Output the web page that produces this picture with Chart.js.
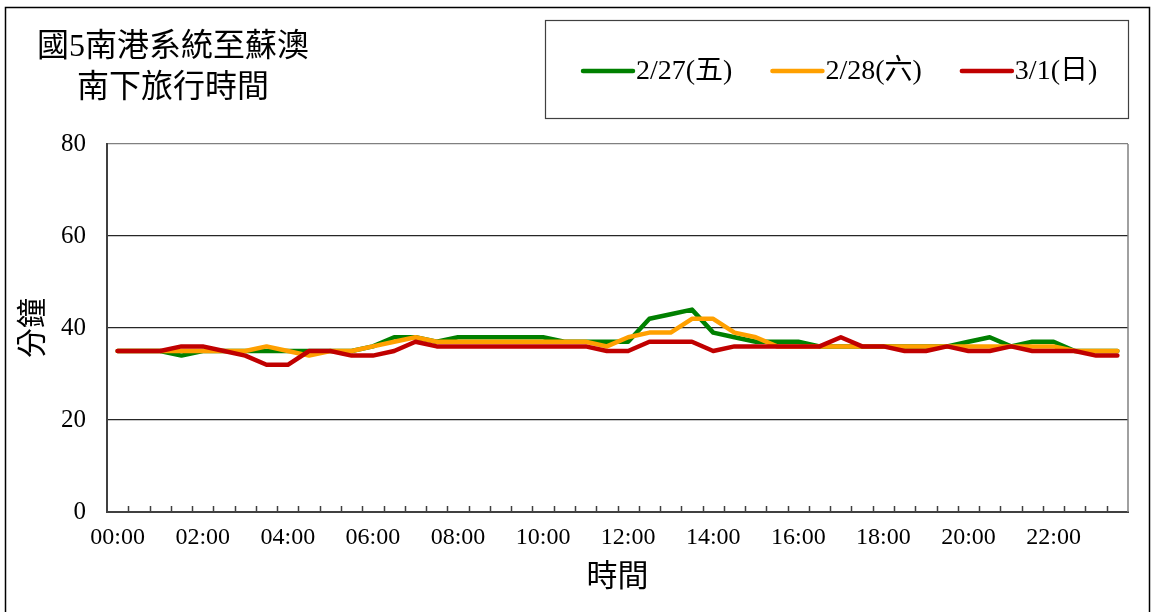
<!DOCTYPE html>
<html><head><meta charset="utf-8">
<script src="https://cdn.jsdelivr.net/npm/chart.js@4.4.1/dist/chart.umd.min.js"></script>
<style>html,body{margin:0;padding:0;background:#fff;overflow:hidden}#wrap{position:relative;width:1153px;height:612px}</style>
</head><body><div id="wrap"><canvas id="c" width="1153" height="612"></canvas></div>
<script>
const titleLines = ['國5南港系統至蘇澳', '南下旅行時間'];
const xTitle = '時間';
const yTitle = '分鐘';
const categories = ['00:00','00:30','01:00','01:30','02:00','02:30','03:00','03:30','04:00','04:30','05:00','05:30',
  '06:00','06:30','07:00','07:30','08:00','08:30','09:00','09:30','10:00','10:30','11:00','11:30',
  '12:00','12:30','13:00','13:30','14:00','14:30','15:00','15:30','16:00','16:30','17:00','17:30',
  '18:00','18:30','19:00','19:30','20:00','20:30','21:00','21:30','22:00','22:30','23:00','23:30'];
const tickLabels = ['00:00','02:00','04:00','06:00','08:00','10:00','12:00','14:00','16:00','18:00','20:00','22:00'];
const seriesNames = ['2/27(五)', '2/28(六)', '3/1(日)'];
const fri = [35,35,35,34,35,35,35,35,35,35,35,35, 36,38,38,37,38,38,38,38,38,37,37,37, 37,42,43,44,39,38,37,37,37,36,36,36, 36,36,36,36,37,38,36,37,37,35,35,35];
const sat = [35,35,35,35,35,35,35,36,35,34,35,35, 36,37,38,37,37,37,37,37,37,37,37,36, 38,39,39,42,42,39,38,36,36,36,36,36, 36,36,36,36,36,36,36,36,36,35,35,35];
const sun = [35,35,35,36,36,35,34,32,32,35,35,34, 34,35,37,36,36,36,36,36,36,36,36,35, 35,37,37,37,35,36,36,36,36,36,38,36, 36,35,35,36,35,35,36,35,35,35,34,34];
const yTicks = [0, 20, 40, 60, 80];
const colors = ['#008000', '#FFA000', '#C00000'];

const serif = '"Liberation Serif", "Noto Sans CJK TC", serif';

const decor = {
  id: 'decor',
  afterDraw(chart) {
    const ctx = chart.ctx, a = chart.chartArea, xs = chart.scales.x;
    ctx.save();
    // outer frame
    ctx.strokeStyle = '#000'; ctx.lineWidth = 1.5;
    ctx.strokeRect(5.5, 7.5, 1144, 700);
    // right plot border
    ctx.strokeStyle = '#808080'; ctx.lineWidth = 1.5;
    ctx.beginPath(); ctx.moveTo(a.right, a.top); ctx.lineTo(a.right, a.bottom); ctx.stroke();
    // inward tick marks between categories
    ctx.strokeStyle = '#404040'; ctx.lineWidth = 1.5;
    ctx.beginPath();
    for (let i = 0; i < categories.length - 1; i++) {
      const x = Math.round((xs.getPixelForValue(i) + xs.getPixelForValue(i + 1)) / 2) + 0.5;
      ctx.moveTo(x, a.bottom); ctx.lineTo(x, a.bottom - 6);
    }
    ctx.stroke();
    // title
    ctx.fillStyle = '#000';
    ctx.font = '32px ' + serif;
    ctx.textBaseline = 'middle'; ctx.textAlign = 'left';
    ctx.fillText(titleLines[0], 37, 48);
    ctx.fillText(titleLines[1], 77, 89);
    // legend box
    ctx.strokeStyle = '#404040'; ctx.lineWidth = 1.2;
    ctx.strokeRect(545.5, 20.5, 583, 98);
    ctx.font = '28px ' + serif;
    let x = 583;
    chart.data.datasets.forEach(ds => {
      ctx.strokeStyle = ds.borderColor; ctx.lineWidth = 4.5; ctx.lineCap = 'round';
      ctx.beginPath(); ctx.moveTo(x, 71); ctx.lineTo(x + 50, 71); ctx.stroke();
      ctx.fillStyle = '#000';
      ctx.fillText(ds.label, x + 53, 72);
      x += 53 + ctx.measureText(ds.label).width + 40;
    });
    ctx.restore();
  }
};

new Chart(document.getElementById('c'), {
  type: 'line',
  data: {
    labels: categories,
    datasets: [
      { label: seriesNames[0], data: fri, borderColor: colors[0], backgroundColor: colors[0], order: 3 },
      { label: seriesNames[1], data: sat, borderColor: colors[1], backgroundColor: colors[1], order: 2 },
      { label: seriesNames[2], data: sun, borderColor: colors[2], backgroundColor: colors[2], order: 1 }
    ]
  },
  options: {
    responsive: false,
    animation: false,
    devicePixelRatio: 1,
    layout: { padding: { top: 144, right: 25, left: 0, bottom: 0 } },
    elements: {
      line: { borderWidth: 4.5, tension: 0, borderJoinStyle: 'round', borderCapStyle: 'round' },
      point: { radius: 0, hoverRadius: 0 }
    },
    plugins: { legend: { display: false }, title: { display: false }, tooltip: { enabled: false } },
    scales: {
      x: {
        type: 'category',
        offset: true,
        afterFit(s) { s.height = 100; },
        grid: { display: false, drawTicks: false, offset: true },
        border: { display: true, color: '#404040', width: 2 },
        ticks: {
          autoSkip: false, maxRotation: 0, minRotation: 0, padding: 11,
          color: '#000', font: { family: serif, size: 24 },
          callback(v, i) { const l = categories[i]; return tickLabels.includes(l) ? l : ''; }
        },
        title: { display: true, text: xTitle, color: '#000', font: { family: serif, size: 31 }, padding: { top: 0, bottom: 16 } }
      },
      y: {
        min: 0, max: 80,
        afterFit(s) { s.width = 107; },
        afterBuildTicks(s) { s.ticks = yTicks.map(v => ({ value: v })); },
        grid: { drawTicks: false, color: ctx => ctx.tick && ctx.tick.value === 80 ? '#808080' : '#262626', lineWidth: 1.2 },
        border: { display: true, color: '#404040', width: 2 },
        ticks: { padding: 21, color: '#000', font: { family: serif, size: 25 } },
        title: { display: true, text: yTitle, color: '#000', font: { family: serif, size: 30 }, padding: { top: 16, bottom: 0 } }
      }
    }
  },
  plugins: [decor]
});
</script>
</body></html>
